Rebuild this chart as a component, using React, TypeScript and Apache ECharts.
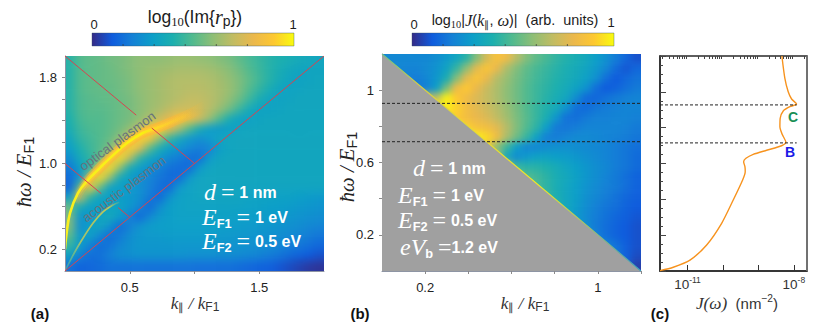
import React, { useEffect, useRef } from "react";
import * as echarts from "echarts";

// ---------- data ----------
const colorRamp = ["#352a87", "#0f5cdd", "#1481d6", "#0c9fc8", "#1cafae", "#52ba8e", "#8fbe75", "#c2bc62", "#ebb84c", "#fdc831", "#f9fb0e"];

// panel (a): colour position (0-100), rows from the top, short rows continue with their last value
const heatA: number[][] = [
  [42, 50, 52, 53, 55, 56, 58, 60, 60, 60, 61, 62, 62, 61, 60, 58, 56, 52, 48, 45, 42, 40, 38, 36, 35, 34],
  [42, 50, 52, 53, 54, 56, 58, 60, 62, 63, 64, 65, 65, 65, 64, 62, 59, 55, 50, 46, 42, 38, 35, 33, 33, 33],
  [42, 50, 52, 53, 54, 55, 57, 60, 62, 64, 66, 67, 67, 67, 66, 64, 61, 57, 52, 47, 42, 37, 33, 32, 33, 34],
  [42, 50, 52, 53, 53, 55, 57, 60, 62, 64, 66, 67, 68, 68, 67, 65, 62, 57, 50, 44, 38, 33, 32, 33, 34, 34],
  [42, 49, 51, 52, 53, 54, 56, 59, 62, 64, 66, 68, 70, 70, 68, 65, 60, 54, 46, 38, 33, 32, 33, 34, 34, 34],
  [42, 49, 51, 51, 52, 54, 56, 59, 62, 65, 69, 72, 73, 72, 68, 62, 55, 46, 36, 32, 32, 33, 34, 34, 34, 34],
  [40, 48, 50, 50, 52, 54, 56, 60, 66, 72, 80, 88, 84, 74, 62, 50, 38, 31, 31, 33, 34],
  [38, 46, 49, 50, 52, 55, 60, 70, 86, 92, 82, 65, 50, 38, 30, 28, 30, 33, 34],
  [34, 44, 47, 50, 53, 60, 75, 92, 88, 62, 45, 35, 28, 25, 28, 33, 34],
  [30, 40, 46, 50, 57, 78, 92, 78, 52, 38, 30, 26, 22, 19, 20, 30, 33, 34],
  [24, 36, 43, 52, 78, 94, 70, 44, 34, 28, 22, 18, 15, 14, 28, 33, 34],
  [18, 30, 42, 78, 94, 62, 38, 30, 25, 20, 16, 14, 13, 28, 33, 34],
  [14, 26, 68, 94, 62, 36, 30, 25, 21, 17, 14, 13, 28, 33, 34],
  [12, 50, 90, 55, 32, 30, 28, 25, 20, 15, 13, 28, 32, 33],
  [30, 76, 44, 32, 30, 30, 28, 25, 18, 13, 26, 31, 32, 33, 33, 33, 33, 33, 32, 32, 32, 31, 31, 30, 29, 28],
  [54, 38, 30, 30, 32, 32, 28, 22, 13, 24, 30, 31, 32, 32, 32, 32, 32, 32, 31, 31, 30, 30, 29, 28, 27, 26],
  [58, 26, 28, 32, 36, 30, 20, 13, 22, 28, 30, 31, 31, 31, 31, 31, 31, 30, 30, 29, 29, 28, 27, 26, 25, 24],
  [58, 24, 30, 34, 26, 14, 20, 26, 29, 30, 30, 30, 30, 30, 30, 30, 29, 29, 28, 28, 27, 26, 25, 24, 22, 21],
  [52, 28, 32, 22, 14, 18, 24, 27, 28, 28, 29, 29, 29, 29, 29, 28, 28, 27, 27, 26, 25, 24, 23, 21, 19, 17],
  [45, 30, 20, 14, 17, 22, 25, 27, 27, 27, 27, 27, 27, 27, 27, 27, 26, 26, 25, 24, 23, 21, 19, 17, 15, 13],
  [32, 20, 15, 16, 20, 24, 25, 26, 26, 26, 26, 26, 25, 25, 25, 24, 24, 23, 22, 21, 19, 17, 14, 12, 10, 8],
  [16, 12, 13, 14, 16, 16, 16, 16, 16, 16, 16, 16, 16, 15, 15, 15, 15, 14, 13, 12, 11, 9, 7, 5, 3, 2],
];

// panel (b): rows from the top, short rows are right-aligned (their left part lies under the grey triangle)
const heatB: number[][] = [
  [22, 22, 22, 22, 22, 24, 28, 33, 42, 58, 74, 86, 82, 68, 58, 52, 48, 44, 41, 38, 35, 30, 25, 19, 13, 8],
  [22, 22, 21, 21, 23, 26, 32, 44, 60, 78, 88, 80, 66, 58, 52, 48, 45, 42, 39, 36, 33, 28, 22, 14, 9, 13],
  [20, 20, 20, 19, 22, 27, 38, 58, 78, 88, 80, 68, 62, 56, 51, 47, 44, 41, 38, 35, 31, 25, 15, 10, 13, 16],
  [18, 18, 18, 18, 20, 30, 56, 82, 90, 80, 72, 66, 60, 55, 50, 46, 43, 40, 36, 32, 26, 15, 10, 12, 15, 18],
  [70, 98, 90, 82, 76, 71, 66, 60, 55, 50, 46, 42, 38, 34, 24, 14, 13, 16, 18, 20, 21],
  [98, 92, 84, 78, 73, 68, 62, 56, 50, 45, 41, 36, 26, 15, 14, 17, 19, 20, 21, 21],
  [90, 84, 80, 76, 70, 64, 57, 51, 45, 39, 27, 16, 15, 18, 20, 20, 21, 21, 20],
  [92, 86, 84, 78, 68, 58, 50, 43, 30, 18, 17, 19, 21, 21, 21, 21, 20, 18],
  [98, 94, 84, 66, 55, 45, 32, 20, 19, 21, 23, 23, 22, 21, 20, 19, 17],
  [96, 86, 60, 46, 30, 22, 22, 24, 25, 25, 24, 23, 22, 21, 19, 17, 15],
  [88, 70, 35, 24, 28, 31, 32, 30, 29, 27, 25, 23, 21, 19, 17, 14],
  [68, 45, 42, 42, 40, 37, 33, 30, 27, 24, 22, 19, 17, 14],
  [62, 50, 47, 43, 38, 35, 31, 27, 24, 21, 18, 15, 12],
  [60, 48, 43, 38, 34, 30, 26, 23, 20, 18, 15, 12],
  [55, 46, 39, 34, 30, 25, 22, 19, 16, 13, 11],
  [50, 42, 34, 29, 24, 20, 17, 15, 12, 10],
  [45, 36, 28, 23, 19, 16, 13, 11, 9],
  [32, 24, 18, 15, 12, 10, 8],
  [28, 20, 15, 12, 10, 8],
  [22, 16, 11, 8],
  [18, 11, 7],
  [12, 4],
];

const opticalRidge = [[0, 0.2], [0.01, 0.33], [0.039, 0.54], [0.1, 0.725], [0.178, 0.847], [0.27, 0.96], [0.347, 1.05], [0.479, 1.19], [0.6, 1.284], [0.71, 1.33], [0.85, 1.4], [0.98, 1.47]];
const opticalBand = [[0.07, 0.64], [0.1, 0.725], [0.178, 0.847], [0.27, 0.96], [0.347, 1.05], [0.479, 1.19], [0.6, 1.284], [0.71, 1.33], [0.85, 1.4], [0.98, 1.47], [1.08, 1.54]];
const acousticRidge = [[0, 0], [0.05, 0.12], [0.116, 0.26], [0.217, 0.446], [0.293, 0.55], [0.37, 0.614], [0.42, 0.64]];

const redSegments = [
  [[0, 0], [2, 2]],
  [[0, 2], [0.55, 1.45]],
  [[0.67, 1.33], [1, 1]],
  [[0, 1], [0.28, 0.72]],
  [[0.41, 0.59], [0.5, 0.5]],
];

const greyTriangle = [[0, 0], [0, 1.2], [1.2, 0]];
const thresholdEdge = [[0, 1.2], [1.2, 0]];
const dashLevels = [0.927, 0.715];

// panel (c): [log10 J, hbar omega / E_F1]
const jCurve = [
  [-8.338, 1.2], [-8.254, 1.075], [-8.16, 1.0], [-8.065, 0.96], [-7.924, 0.932], [-8.113, 0.917], [-8.3, 0.893],
  [-8.386, 0.852], [-8.394, 0.805], [-8.33, 0.763], [-8.225, 0.718], [-8.346, 0.699], [-8.769, 0.674], [-9.146, 0.651],
  [-9.352, 0.629], [-9.417, 0.61], [-9.38, 0.582], [-9.372, 0.554], [-9.445, 0.508], [-9.71, 0.396], [-10.037, 0.266],
  [-10.459, 0.145], [-10.93, 0.061], [-11.4, 0.021], [-11.775, 0.002],
];
const cXMin = -11.775;
const cXMax = -7.63;
const cMajor = [-11, -10, -9, -8];
const cLabels = [-11, -8];
const cMinor = [-12, -11, -10, -9, -8].flatMap((e) => [2, 3, 4, 5, 6, 7, 8, 9].map((n) => e + Math.log10(n))).filter((v) => v > cXMin && v < cXMax);

const aXLabels = [0.5, 1.5];
const aXTicks = [0.5, 1, 1.5];
const aYLabels = [0.2, 1, 1.8];
const aYTicks = [0.2, 0.4, 0.6, 0.8, 1, 1.2, 1.4, 1.6, 1.8];
const bXLabels = [0.2, 1];
const bXTicks = [0.2, 0.4, 0.6, 0.8, 1, 1.2];
const bYLabels = [0.2, 0.6, 1];
const bYTicks = [0.2, 0.4, 0.6, 0.8, 1];

// ---------- layout ----------
const rectA = { left: 65, top: 56, width: 259, height: 215 };
const rectB = { left: 382, top: 54, width: 259, height: 217 };
const rectC = { left: 660, top: 56, width: 147, height: 215 };
const SANS = "'Liberation Sans', Arial, sans-serif";
const SERIF = "'Liberation Serif', serif";
const PAD = 2;

const rich = (size: number, color: string, bold = false, line = size * 1.4) => ({
  n: { fontFamily: SANS, fontSize: size, color, fontWeight: bold ? "bold" : "normal", lineHeight: line },
  i: { fontFamily: SERIF, fontStyle: "italic", fontSize: size * 1.15, color, lineHeight: line },
  m: { fontFamily: SERIF, fontStyle: "italic", fontSize: size * 1.5, color, lineHeight: line },
  e: { fontFamily: SERIF, fontSize: size * 1.5, color, lineHeight: line },
  g: { fontFamily: SANS, fontSize: size * 1.1, color, lineHeight: line },
  d: { fontFamily: SERIF, fontSize: size * 0.72, color, verticalAlign: "bottom" },
  s: { fontFamily: SANS, fontSize: size * 0.8, color, fontWeight: bold ? "bold" : "normal", verticalAlign: "bottom" },
  u: { fontFamily: SANS, fontSize: size * 0.68, color, verticalAlign: "top" },
});

const label = (x: number, y: number, text: string, size: number, color = "#1c1c1c", extra: any = {}, bold = false, line?: number) => ({
  type: "text",
  x,
  y,
  z: 50,
  silent: true,
  rotation: extra.rotation || 0,
  style: {
    text,
    fill: color,
    fontFamily: SANS,
    fontSize: size,
    fontWeight: bold ? "bold" : "normal",
    textAlign: extra.align || "center",
    textVerticalAlign: "middle",
    rich: rich(size, color, bold, line),
  },
});

const colorbar = (x: number, y: number, w: number, h: number) => {
  const stops = colorRamp.map((color, i) => ({ offset: i / (colorRamp.length - 1), color }));
  const ticks = [1, 2, 3, 4, 5].map((n) => ({
    type: "line",
    z: 41,
    silent: true,
    shape: { x1: x + (n * w) / 6.5, y1: y + h - 2, x2: x + (n * w) / 6.5, y2: y + h },
    style: { stroke: "#3a3a3a", lineWidth: 0.7 },
  }));
  return [
    {
      type: "rect",
      z: 40,
      silent: true,
      shape: { x, y, width: w, height: h },
      style: {
        fill: new echarts.graphic.LinearGradient(0, 0, 1, 0, stops),
        stroke: "rgba(50,80,100,0.55)",
        lineWidth: 0.7,
      },
    },
    ...ticks,
  ];
};

function useChart(build: () => any) {
  const ref = useRef<HTMLDivElement>(null);
  useEffect(() => {
    const chart = echarts.init(ref.current!, undefined, { renderer: "svg" });
    chart.setOption(build());
    return () => chart.dispose();
  }, []);
  return ref;
}

const heatOption = (rows: number[][], alignRight: boolean) => {
  const nCols = 26;
  const nRows = rows.length;
  const full = rows.map((r) => {
    if (r.length === nCols) return r;
    const fill = Array(nCols - r.length).fill(alignRight ? r[0] : r[r.length - 1]);
    return alignRight ? [...fill, ...r] : [...r, ...fill];
  });
  const data: number[][] = [];
  for (let r = -PAD; r < nRows + PAD; r++) {
    for (let c = -PAD; c < nCols + PAD; c++) {
      const v = full[Math.max(0, Math.min(nRows - 1, r))][Math.max(0, Math.min(nCols - 1, c))];
      data.push([c + PAD, nRows - 1 - r + PAD, v]);
    }
  }
  return {
    animation: false,
    grid: { left: 0, right: 0, top: 0, bottom: 0 },
    xAxis: { type: "category", show: false, data: Array.from({ length: nCols + 2 * PAD }, (_, i) => i) },
    yAxis: { type: "category", show: false, data: Array.from({ length: nRows + 2 * PAD }, (_, i) => i) },
    visualMap: { show: false, min: 0, max: 100, inRange: { color: colorRamp }, dimension: 2 },
    series: [{ type: "heatmap", data, progressive: 0, itemStyle: { borderWidth: 0 } }],
  };
};

function Heat({ rect, rows, alignRight, blur }: any) {
  const ref = useChart(() => heatOption(rows, alignRight));
  const cw = rect.width / 26;
  const ch = rect.height / rows.length;
  return (
    <div style={{ position: "absolute", ...rect, overflow: "hidden" }}>
      <div
        ref={ref}
        style={{
          position: "absolute",
          left: -PAD * cw,
          top: -PAD * ch,
          width: rect.width + 2 * PAD * cw,
          height: rect.height + 2 * PAD * ch,
          filter: `blur(${blur}px)`,
        }}
      />
    </div>
  );
}

const fade = (stops: [number, string][]) => ({
  type: "linear",
  x: 0,
  y: 0,
  x2: 1,
  y2: 0,
  colorStops: stops.map(([offset, color]) => ({ offset, color })),
});

function Ridges() {
  const ref = useChart(() => ({
    animation: false,
    grid: { left: 0, right: 0, top: 0, bottom: 0 },
    xAxis: { type: "value", min: 0, max: 2, show: false },
    yAxis: { type: "value", min: 0, max: 2, show: false },
    series: [
      {
        type: "line",
        data: opticalBand,
        smooth: 0.4,
        showSymbol: false,
        lineStyle: {
          width: 10,
          color: fade([[0, "rgba(253,185,55,0)"], [0.15, "rgba(253,185,55,0.55)"], [0.65, "rgba(253,185,55,0.75)"], [1, "rgba(253,185,55,0)"]]),
        },
      },
      {
        type: "line",
        data: opticalBand,
        smooth: 0.4,
        showSymbol: false,
        lineStyle: {
          width: 6,
          color: fade([[0, "rgba(253,200,50,0)"], [0.1, "rgba(253,200,50,0.8)"], [0.6, "rgba(253,200,50,0.9)"], [0.9, "rgba(253,200,50,0)"]]),
        },
      },
      {
        type: "line",
        data: opticalRidge,
        smooth: 0.4,
        showSymbol: false,
        lineStyle: {
          width: 2.6,
          color: fade([[0, "#f9ee20"], [0.6, "#f9f010"], [0.75, "rgba(253,215,40,0.8)"], [1, "rgba(253,200,50,0)"]]),
        },
      },
      {
        type: "line",
        data: acousticRidge,
        smooth: 0.4,
        showSymbol: false,
        lineStyle: {
          width: 1.7,
          color: fade([[0, "rgba(90,190,150,0.5)"], [0.3, "#a4c26a"], [0.8, "#c0c658"], [1, "rgba(160,190,110,0.2)"]]),
        },
      },
    ],
  }));
  return (
    <div style={{ position: "absolute", ...rectA, overflow: "hidden" }}>
      <div ref={ref} style={{ width: rectA.width, height: rectA.height, filter: "blur(0.7px)" }} />
    </div>
  );
}

const tickLabel = { fontFamily: SANS, fontSize: 13, color: "#222" };
const softLine = { show: true, lineStyle: { color: "#8e95a4", width: 1 } };
const softTick = { show: true, length: 3, lineStyle: { color: "#8a8a8a", width: 1 } };
const fmt1 = (v: number) => v.toFixed(1);
const fmtB = (v: number) => (v === 1 ? "1" : v.toFixed(1));

const valueAxis = (gridIndex: number, min: number, max: number, labels: number[], ticks: number[], fmt: any, margin: number) => ({
  type: "value",
  gridIndex,
  min,
  max,
  splitLine: { show: false },
  axisLine: softLine,
  axisTick: { ...softTick, customValues: ticks },
  axisLabel: { ...tickLabel, customValues: labels, formatter: fmt, margin, showMinLabel: true, showMaxLabel: true },
});

const mathLine = (x: number, y: number, text: string) => label(x, y, text, 16, "#fff", { align: "left" }, true, 26);

const frontOption = () => {
  const graphic: any[] = [
    ...colorbar(92, 33, 202, 13),
    ...colorbar(412, 33, 202, 13),
    label(94, 24, "0", 13),
    label(293, 24, "1", 13),
    label(195, 17, "{n|log}{d|10}{n|(Im{}{i|r}{s|p}}{n|)}", 17.5, "#1c1c1c", {}, false, 22),
    label(414, 24, "0", 13),
    label(611, 22, "1", 13),
    label(515, 20, "{n|log}{d|10}{n||}{i|J}{n|(}{i|k}{d|∥}{n|, }{i|ω}{n|)|  (arb.  units)}", 14.4, "#1c1c1c", {}, false, 19),
    label(195, 303, "{i|k}{d|∥}{i| / k}{s|F1}", 15, "#333", {}, false, 19),
    label(525, 303, "{i|k}{d|∥}{i| / k}{s|F1}", 15, "#333", {}, false, 19),
    label(737, 303, "{i|J}{i|(ω)}{n|  (nm}{u|−2}{n|)}", 15, "#333", {}, false, 19),
    label(24, 172, "{i|ħω / E}{s|F1}", 18, "#222", { rotation: Math.PI / 2 }, false, 23),
    label(347, 167, "{i|ħω / E}{s|F1}", 18, "#222", { rotation: Math.PI / 2 }, false, 23),
    label(40, 313, "(a)", 15, "#111", {}, true),
    label(360, 313, "(b)", 15, "#111", {}, true),
    label(660, 313, "(c)", 15, "#111", {}, true),
    label(117.5, 141, "optical plasmon", 13, "#67737d", { rotation: (36 * Math.PI) / 180 }),
    label(124, 189, "acoustic plasmon", 13, "#67737d", { rotation: (37 * Math.PI) / 180 }),
    mathLine(204, 192, "{m|d}{g| }{e|=}{g| }{n|1 nm}"),
    mathLine(202, 217, "{m|E}{s|F1}{g| }{e|=}{g| }{n|1 eV}"),
    mathLine(202, 241, "{m|E}{s|F2}{g| }{e|=}{g| }{n|0.5 eV}"),
    mathLine(413, 168, "{m|d}{g| }{e|=}{g| }{n|1 nm}"),
    mathLine(398, 195, "{m|E}{s|F1}{g| }{e|=}{g| }{n|1 eV}"),
    mathLine(398, 220, "{m|E}{s|F2}{g| }{e|=}{g| }{n|0.5 eV}"),
    mathLine(400, 247, "{m|eV}{s|b}{g| }{e|=}{n|1.2 eV}"),
    label(793, 117, "C", 14, "#1a8f55", {}, true),
    label(790, 152, "B", 14, "#1a1ae6", {}, true),
    {
      type: "line",
      z: 45,
      silent: true,
      shape: { x1: 807, y1: 56, x2: 807, y2: 271 },
      style: { stroke: "#777", lineWidth: 1.6 },
    },
  ];

  const redSeries = redSegments.map((data) => ({
    type: "line",
    xAxisIndex: 0,
    yAxisIndex: 0,
    data,
    showSymbol: false,
    z: 4,
    lineStyle: { color: "#d8434f", width: 1 },
  }));

  const dashSeriesB = dashLevels.map((v) => ({
    type: "line",
    xAxisIndex: 1,
    yAxisIndex: 1,
    data: [[0, v], [1.23, v]],
    showSymbol: false,
    clip: false,
    z: 6,
    lineStyle: { color: "#222", width: 1, type: [3, 2] },
  }));

  const dashSeriesC = dashLevels.map((v) => ({
    type: "line",
    xAxisIndex: 2,
    yAxisIndex: 2,
    data: [[cXMin, v], [-7.92, v]],
    showSymbol: false,
    z: 6,
    lineStyle: { color: "#222", width: 1, type: [3, 2] },
  }));

  return {
    animation: false,
    backgroundColor: "transparent",
    textStyle: { fontFamily: SANS },
    grid: [
      { ...rectA, containLabel: false },
      { ...rectB, containLabel: false },
      { ...rectC, containLabel: false, show: true, borderColor: "#2a2a2a", borderWidth: 1.5 },
    ],
    xAxis: [
      valueAxis(0, 0, 2, aXLabels, aXTicks, fmt1, 10),
      valueAxis(1, 0, 1.2, bXLabels, bXTicks, fmtB, 10),
      {
        type: "value",
        gridIndex: 2,
        min: cXMin,
        max: cXMax,
        splitLine: { show: false },
        axisLine: { show: true, lineStyle: { color: "#2a2a2a", width: 1.5 } },
        axisTick: { show: true, inside: true, length: 6, customValues: cMajor, lineStyle: { color: "#333", width: 1 } },
        axisLabel: {
          customValues: cLabels,
          margin: 4,
          color: "#333",
          formatter: (v: number) => `{b|10}{p|${v}}`,
          rich: {
            b: { fontFamily: SANS, fontSize: 13.5, color: "#333", lineHeight: 18 },
            p: { fontFamily: SANS, fontSize: 8.5, color: "#333", verticalAlign: "top" },
          },
        },
      },
      {
        type: "value",
        gridIndex: 2,
        min: cXMin,
        max: cXMax,
        splitLine: { show: false },
        axisLine: { show: false },
        axisTick: { show: true, inside: true, length: 3, customValues: cMinor, lineStyle: { color: "#444", width: 1 } },
        axisLabel: { show: false },
      },
    ],
    yAxis: [
      valueAxis(0, 0, 2, aYLabels, aYTicks, fmt1, 8),
      valueAxis(1, 0, 1.2, bYLabels, bYTicks, fmtB, 8),
      {
        type: "value",
        gridIndex: 2,
        min: 0,
        max: 1.2,
        interval: 0.2,
        splitLine: { show: false },
        axisLine: { show: true, lineStyle: { color: "#2a2a2a", width: 1.5 } },
        axisTick: { show: true, inside: true, length: 6, lineStyle: { color: "#444", width: 1 } },
        minorTick: { show: true, splitNumber: 4, length: 3, lineStyle: { color: "#444", width: 1 } },
        axisLabel: { show: false },
      },
    ],
    graphic,
    series: [
      ...redSeries,
      {
        type: "custom",
        xAxisIndex: 1,
        yAxisIndex: 1,
        z: 2,
        silent: true,
        data: [greyTriangle[0]],
        renderItem: (_: any, api: any) => ({
          type: "polygon",
          shape: { points: greyTriangle.map((p) => api.coord(p)) },
          style: { fill: "#a0a0a0" },
        }),
      },
      {
        type: "line",
        xAxisIndex: 1,
        yAxisIndex: 1,
        data: thresholdEdge,
        showSymbol: false,
        z: 3,
        lineStyle: {
          width: 1.2,
          color: fade([[0, "#6fc08a"], [0.15, "#d8cf40"], [0.6, "#f5ea20"], [0.8, "#9fc070"], [1, "#3aa0c0"]]),
        },
      },
      ...dashSeriesB,
      ...dashSeriesC,
      {
        type: "line",
        xAxisIndex: 2,
        yAxisIndex: 2,
        data: jCurve,
        smooth: 0.25,
        showSymbol: false,
        z: 5,
        lineStyle: { color: "#f7931e", width: 1.4 },
      },
    ],
  };
};

export default function App() {
  const front = useChart(frontOption);
  return (
    <div style={{ position: "fixed", left: 0, top: 0, width: 830, height: 333, background: "#fff", overflow: "hidden" }}>
      <Heat rect={rectA} rows={heatA} alignRight={false} blur={4} />
      <Heat rect={rectB} rows={heatB} alignRight={true} blur={3.5} />
      <Ridges />
      <div ref={front} style={{ position: "absolute", left: 0, top: 0, width: 830, height: 333 }} />
    </div>
  );
}
